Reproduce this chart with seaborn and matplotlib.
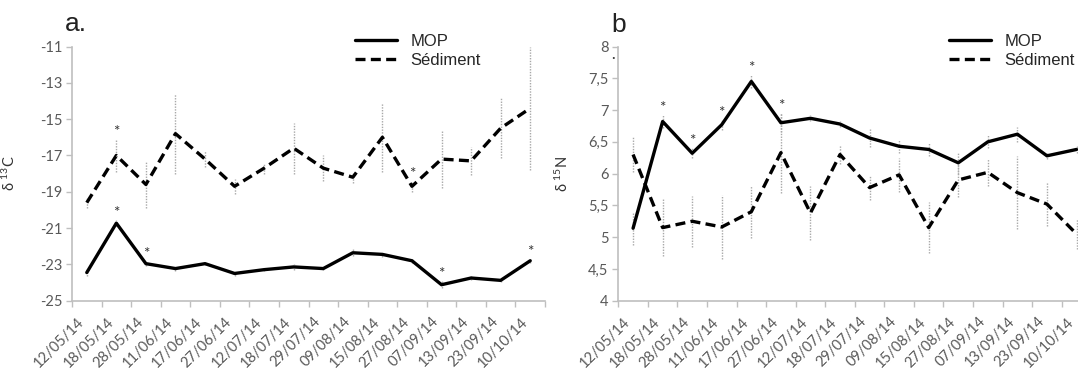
import numpy as np
import pandas as pd
import seaborn as sns
import matplotlib.pyplot as plt

# sampling dates (same for both panels)
dates = ['12/05/14', '18/05/14', '28/05/14', '11/06/14', '17/06/14', '27/06/14',
         '12/07/14', '18/07/14', '29/07/14', '09/08/14', '15/08/14', '27/08/14',
         '07/09/14', '13/09/14', '23/09/14', '10/10/14']

# panel a: d13C
c13_mop = [-23.45, -20.73, -22.96, -23.23, -22.96, -23.5, -23.29, -23.14,
           -23.23, -22.36, -22.45, -22.8, -24.12, -23.75, -23.88, -22.8]
c13_mop_sd = [0.2, 0.15, 0.15, 0.15, 0.1, 0.15, 0.1, 0.15,
              0.1, 0.2, 0.15, 0.15, 0.2, 0.1, 0.1, 0.1]
c13_sed = [-19.6, -17.0, -18.6, -15.8, -17.2, -18.7, -17.7, -16.6,
           -17.7, -18.2, -16.0, -18.7, -17.2, -17.3, -15.5, -14.4]
c13_sed_sd = [0.3, 0.9, 1.3, 2.2, 0.45, 0.4, 0.3, 1.4,
              0.7, 0.3, 1.9, 0.3, 1.6, 0.75, 1.65, 3.4]
c13_mop_star = [1, 2, 12, 15]
c13_sed_star = [1, 11]

# panel b: d15N
n15_mop = [5.14, 6.82, 6.32, 6.77, 7.45, 6.8, 6.87, 6.78,
           6.56, 6.43, 6.38, 6.17, 6.5, 6.62, 6.28, 6.38]
n15_mop_sd = [0.26, 0.1, 0.08, 0.08, 0.1, 0.15, 0.05, 0.05,
              0.14, 0.1, 0.1, 0.17, 0.1, 0.12, 0.05, 0.05]
n15_sed = [6.3, 5.15, 5.25, 5.16, 5.4, 6.33, 5.38, 6.3,
           5.78, 5.98, 5.15, 5.9, 6.02, 5.7, 5.52, 5.05]
n15_sed_sd = [0.28, 0.45, 0.4, 0.5, 0.41, 0.63, 0.42, 0.15,
              0.2, 0.27, 0.4, 0.27, 0.21, 0.57, 0.35, 0.24]
n15_mop_star = [1, 2, 3, 4, 5]
n15_sed_star = []

series_names = ['MOP', 'Sédiment']

sns.set_style("white")
plt.rcParams['font.family'] = ['Lato', 'DejaVu Sans']
plt.rcParams['mathtext.default'] = 'regular'

GREY_TXT = '#595959'
SPINE = '#bfbfbf'


def make_df(mop, sed):
    x = np.arange(len(dates))
    return pd.DataFrame({
        'x': np.concatenate([x, x]),
        'value': mop + sed,
        'series': [series_names[0]] * len(mop) + [series_names[1]] * len(sed),
    })


def draw_panel(ax, mop, mop_sd, sed, sed_sd, mop_star, sed_star,
               yticks, ticklabels, ylabel, legend_x):
    x = np.arange(len(dates))
    for vals, sd in ((mop, mop_sd), (sed, sed_sd)):
        eb = ax.errorbar(x, vals, yerr=sd, fmt='none', ecolor='#a8a8a8',
                         elinewidth=1.0, capsize=0, zorder=1)
        eb[2][0].set_linestyle((0, (1, 1)))

    sns.lineplot(data=make_df(mop, sed), x='x', y='value', hue='series',
                 style='series', palette=['black', 'black'],
                 dashes={'MOP': '', 'Sédiment': (3, 1.6)},
                 linewidth=2.4, ax=ax, zorder=3, sort=False)

    for vals, sd, stars in ((mop, mop_sd, mop_star), (sed, sed_sd, sed_star)):
        for i in stars:
            ax.annotate('*', (x[i], vals[i] + sd[i]), xytext=(0, 0),
                        textcoords='offset points', ha='center', va='bottom',
                        fontsize=11, color='#333333')

    ax.set_xlim(-0.5, len(dates) - 0.5)
    ax.set_ylim(yticks[0], yticks[-1])
    ax.set_yticks(yticks)
    ax.set_yticklabels(ticklabels)
    ax.set_xticks(x)
    ax.set_xticklabels(dates, rotation=45, ha='right', va='top')
    ax.set_xticks(np.arange(-0.5, len(dates)), minor=True)
    ax.tick_params(axis='x', which='major', length=0, pad=10,
                   labelsize=10.5, labelcolor=GREY_TXT)
    ax.tick_params(axis='x', which='minor', length=4, width=1, color=SPINE,
                   direction='out', bottom=True)
    ax.tick_params(axis='y', length=4, width=1, color=SPINE, direction='out',
                   left=True, labelsize=10.5, labelcolor=GREY_TXT, pad=3)
    for s in ('top', 'right'):
        ax.spines[s].set_visible(False)
    for s in ('left', 'bottom'):
        ax.spines[s].set_color(SPINE)
        ax.spines[s].set_linewidth(1.2)
    ax.set_xlabel('')
    ax.set_ylabel(ylabel, fontsize=10.5, color='#333333')

    handles, labels = ax.get_legend_handles_labels()
    ax.legend(handles, labels, loc='upper left',
              bbox_to_anchor=(legend_x, 1.05), frameon=False,
              borderpad=0, borderaxespad=0, handlelength=2.5,
              handletextpad=0.85, labelspacing=0.25,
              prop={'family': 'Liberation Sans', 'size': 12})


fig = plt.figure(figsize=(10.78, 3.68), dpi=100)
W, H = 1078, 368
ax_a = fig.add_axes([72 / W, (H - 300.7) / H, 473 / W, 254.2 / H])
ax_b = fig.add_axes([618.3 / W, (H - 300.7) / H, 473 / W, 254.2 / H])

draw_panel(ax_a, c13_mop, c13_mop_sd, c13_sed, c13_sed_sd,
           c13_mop_star, c13_sed_star,
           [-25, -23, -21, -19, -17, -15, -13, -11],
           ['-25', '-23', '-21', '-19', '-17', '-15', '-13', '-11'],
           r'δ $^{13}$C', 0.598)
ax_a.yaxis.set_label_coords(-0.115, 0.5)

draw_panel(ax_b, n15_mop, n15_mop_sd, n15_sed, n15_sed_sd,
           n15_mop_star, n15_sed_star,
           [4, 4.5, 5, 5.5, 6, 6.5, 7, 7.5, 8],
           ['4', '4,5', '5', '5,5', '6', '6,5', '7', '7,5', '8'],
           r'δ $^{15}$N', 0.699)
ax_b.yaxis.set_label_coords(-0.1, 0.5)

fig.text(65 / W, 1 - 31 / H, 'a.', fontsize=19, family='Liberation Sans',
         color='#222222')
fig.text(611 / W, 1 - 32 / H, 'b', fontsize=19, family='Liberation Sans',
         color='#222222')
fig.text(613 / W, 1 - 62 / H, '·', fontsize=10, color='#333333', ha='center')

fig.savefig('out.png', dpi=100)
